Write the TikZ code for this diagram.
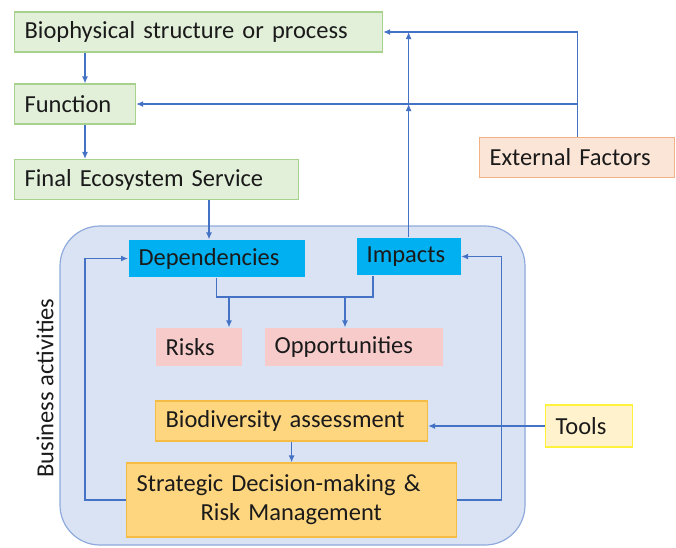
\documentclass[tikz,border=0pt]{standalone}
\usepackage{fontspec}
\setmainfont{Carlito}
\usepackage{tikz}
\usetikzlibrary{calc}
\usetikzlibrary{arrows.meta,arrows}
\usetikzlibrary{positioning}
\definecolor{greenfill}{HTML}{E2F0D9}
\definecolor{greenline}{HTML}{A9D18E}
\definecolor{peachfill}{HTML}{FBE5D6}
\definecolor{peachline}{HTML}{F4B183}
\definecolor{busfill}{HTML}{DAE3F3}
\definecolor{busline}{HTML}{8FAADC}
\definecolor{cyanfill}{HTML}{00B0F0}
\definecolor{pinkfill}{HTML}{F8CBCB}
\definecolor{goldfill}{HTML}{FFD680}
\definecolor{goldline}{HTML}{F5BC45}
\definecolor{toolfill}{HTML}{FFF2CC}
\definecolor{toolline}{HTML}{FFF23A}
\definecolor{linkblue}{HTML}{4472C4}
\definecolor{txt}{HTML}{1A1A1A}
\tikzset{
  box/.style={rectangle, anchor=west, inner xsep=10pt, inner ysep=0pt, minimum height=40pt, align=left, text=txt, line width=1.2pt, font=\fontsize{24.5}{29}\selectfont},
  ecobox/.style={box, fill=greenfill, draw=greenline},
  extbox/.style={box, fill=peachfill, draw=peachline},
  keybox/.style={box, fill=cyanfill, minimum height=37pt},
  riskbox/.style={box, fill=pinkfill, minimum height=38pt},
  assessbox/.style={box, fill=goldfill, draw=goldline},
  toolbox/.style={box, fill=toolfill, draw=toolline, minimum height=42pt},
  arrow/.style={draw=linkblue, -{Latex[length=7pt,width=6pt]}, line width=1.2pt},
  link/.style={draw=linkblue, line width=1.2pt}
  }
\begin{document}
\begin{tikzpicture}[x=1pt, y=-1pt]
	\useasboundingbox (0,0) rectangle (676,547);
	% Frame
	\draw [rounded corners=40pt, fill=busfill, draw=busline, line width=1.2pt] (60,226) rectangle (525,545);
	\node [rotate=90, text=txt, font=\fontsize{24.5}{29}\selectfont] (busl) at (45,388) {Business activities};

	% Nodes
	\node[ecobox, text width=348pt] (bio) at (14,32) {Biophysical structure or process};
	\node[ecobox, text width=101pt] (fun) at (14,104) {Function};
	\node[ecobox, text width=264pt] (fes) at (14,179.5) {Final Ecosystem Service};
	\node[extbox, text width=175pt] (ext) at (479,157.5) {External Factors};
	\node[keybox, text width=156pt] (dep) at (128,258.5) {Dependencies};
	\node[keybox, text width=84pt] (imp) at (356,256.5) {Impacts};
	\node[riskbox, text width=66pt] (risk) at (155,347) {Risks};
	\node[riskbox, text width=158pt] (opp) at (264,347) {Opportunities};
	\node[assessbox, text width=252pt] (assess) at (155,421) {Biodiversity assessment};
	\node[assessbox, text width=310pt, minimum height=74pt] (strat) at (126,500) {Strategic Decision-making \&\\\hspace*{64pt}Risk Management};
	\node[toolbox, text width=67pt] (tools) at (545,426) {Tools};

	% Arrow
	\draw [arrow] ([xshift=71pt]bio.south west) -- ([xshift=71pt]fun.north west);
	\draw [arrow] ([xshift=71pt]fun.south west) -- ([xshift=71pt]fes.north west);
	\coordinate (fesout) at ([xshift=195pt]fes.south west);
	\draw [arrow] (fesout) -- (fesout |- dep.north);
	\draw [arrow] (ext.north) |- (bio.east);
	\draw [arrow] (ext.north |- fun.east) -- (fun.east);
	\draw [arrow] (imp.north) -- (imp.north |- fun.east);
	\draw [arrow] (imp.north |- fun.east) -- (imp.north |- bio.east);

	\coordinate (split) at (0,297);
	\coordinate (impout) at ([xshift=17pt]imp.south west);
	\coordinate (rsk) at ([xshift=74pt]risk.north west);
	\coordinate (opq) at ([xshift=81pt]opp.north west);
	\draw [link] (dep.south) -- (dep.south |- split) -- (impout |- split) -- (impout);
	\draw [arrow] (rsk |- split) -- (rsk);
	\draw [arrow] (opq |- split) -- (opq);

	\draw [arrow] (tools.west) -- (tools.west -| assess.east);
	\draw [arrow] (assess.south) -- (strat.north);
	\draw [arrow] (strat.west) -- ++(-41,0) |- (dep.west);
	\draw [arrow] (strat.east) -- ++(44,0) |- (imp.east);
\end{tikzpicture}
\end{document}
